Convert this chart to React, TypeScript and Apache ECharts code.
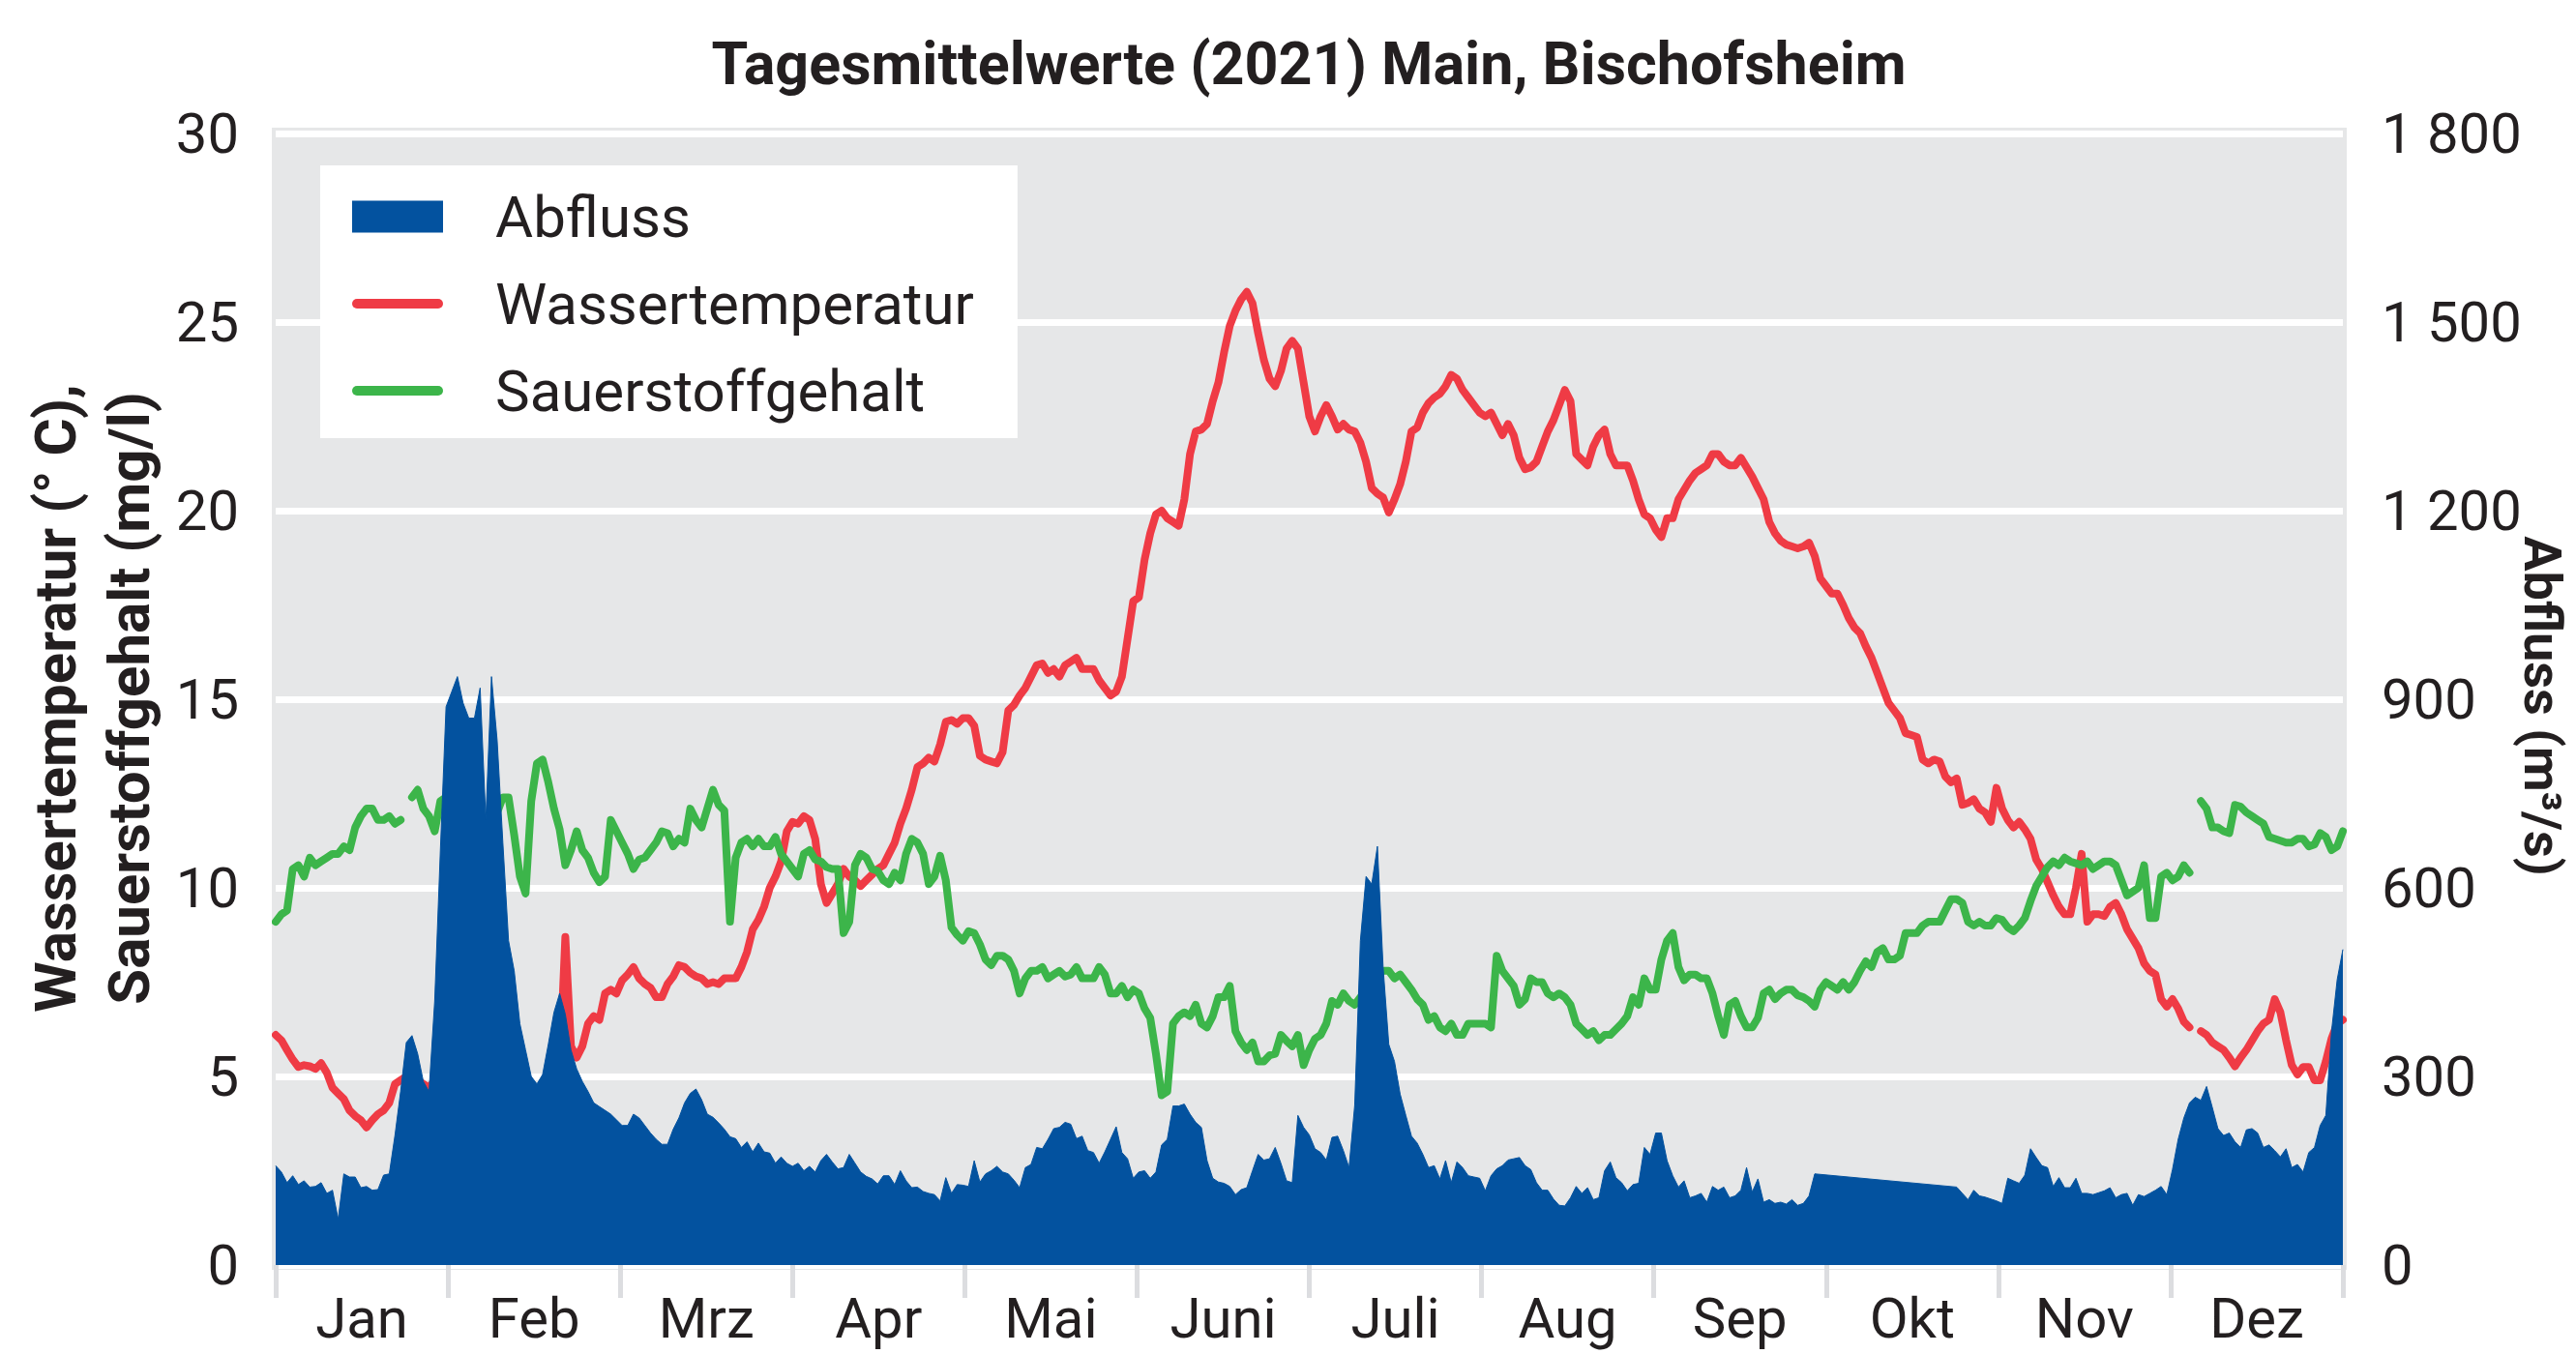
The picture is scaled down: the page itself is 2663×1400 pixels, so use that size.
import React, { useEffect, useRef } from "react";
import * as echarts from "echarts";

const TITLE = "Tagesmittelwerte (2021) Main, Bischofsheim";
const MONTHS = ["Jan", "Feb", "Mrz", "Apr", "Mai", "Juni", "Juli", "Aug", "Sep", "Okt", "Nov", "Dez"];

// Abfluss (m³/s), daily means 2021 (null = no data)
const abfluss: (number | null)[] = [
  158, 148, 131, 142, 128, 134, 124, 125, 131, 114,
  119, 73, 145, 140, 140, 123, 125, 119, 120, 143,
  145, 206, 276, 354, 365, 336, 292, 276, 420, 660,
  888, 912, 936, 894, 870, 870, 918, 708, 936, 834,
  672, 516, 468, 384, 342, 300, 288, 303, 351, 402,
  432, 399, 342, 312, 292, 276, 258, 252, 246, 240,
  231, 222, 222, 240, 234, 222, 210, 200, 192, 192,
  216, 234, 258, 273, 280, 263, 240, 235, 226, 216,
  204, 201, 187, 196, 180, 194, 180, 178, 162, 172,
  162, 157, 162, 150, 157, 148, 166, 176, 164, 153,
  155, 176, 162, 148, 141, 137, 129, 142, 142, 128,
  150, 134, 123, 124, 117, 114, 112, 102, 139, 114,
  128, 127, 125, 166, 132, 145, 150, 157, 148, 145,
  135, 123, 155, 160, 187, 185, 200, 217, 219, 227,
  224, 201, 205, 182, 179, 162, 180, 200, 220, 179,
  169, 138, 148, 150, 138, 148, 191, 200, 253, 253,
  256, 240, 227, 219, 166, 138, 132, 130, 125, 112,
  120, 123, 150, 176, 167, 169, 187, 162, 134, 131,
  238, 219, 207, 185, 179, 167, 203, 205, 182, 155,
  254, 516, 618, 606, 666, 474, 351, 324, 272, 238,
  205, 194, 176, 155, 158, 137, 166, 131, 164, 155,
  142, 140, 138, 118, 142, 153, 158, 167, 169, 171,
  158, 152, 131, 119, 119, 105, 95, 94, 107, 125,
  114, 123, 104, 107, 150, 164, 139, 131, 118, 128,
  130, 187, 176, 210, 210, 166, 142, 124, 134, 107,
  110, 114, 100, 125, 119, 124, 107, 110, 119, 155,
  116, 137, 100, 104, 98, 100, 97, 104, 95, 98,
  110, 145, null, null, null, null, null, null, null, null,
  null, null, null, null, null, null, null, null, null, null,
  null, null, null, null, null, null, 124, 114, 104, 119,
  110, 108, 105, 102, 98, 138, 134, 130, 143, 185,
  171, 158, 155, 125, 139, 123, 123, 138, 114, 114,
  112, 115, 118, 123, 107, 112, 114, 95, 112, 109,
  114, 119, 125, 112, 152, 200, 234, 258, 267, 262,
  284, 251, 217, 206, 210, 196, 187, 215, 217, 210,
  187, 191, 182, 172, 185, 155, 160, 148, 179, 187,
  222, 238, 371, 454, 502,
];

// Wassertemperatur (°C)
const wassertemperatur: (number | null)[] = [
  6.1, 5.96, 5.7, 5.45, 5.25, 5.3, 5.27, 5.2, 5.35, 5.1,
  4.7, 4.55, 4.4, 4.1, 3.95, 3.84, 3.65, 3.84, 4.0, 4.1,
  4.3, 4.8, 4.9, 5.0, 5.0, 4.9, 4.8, 4.7, 4.9, 5.0,
  5.0, 4.8, 4.6, 4.3, 4.0, 3.6, 3.3, 3.2, 3.3, 3.5,
  3.8, 4.1, 4.3, 4.4, 4.5, 4.5, 4.5, 4.6, 4.8, 5.0,
  5.2, 8.7, 5.8, 5.5, 5.8, 6.4, 6.6, 6.5, 7.2, 7.3,
  7.2, 7.55, 7.7, 7.9, 7.6, 7.45, 7.35, 7.1, 7.1, 7.45,
  7.65, 7.95, 7.9, 7.75, 7.65, 7.6, 7.45, 7.5, 7.45, 7.6,
  7.6, 7.6, 7.9, 8.3, 8.9, 9.15, 9.5, 10.0, 10.3, 10.7,
  11.5, 11.75, 11.7, 11.9, 11.8, 11.3, 10.1, 9.6, 9.85, 10.1,
  10.5, 10.3, 10.2, 10.05, 10.2, 10.35, 10.5, 10.6, 10.9, 11.2,
  11.7, 12.1, 12.6, 13.2, 13.3, 13.45, 13.35, 13.8, 14.4, 14.45,
  14.35, 14.5, 14.5, 14.3, 13.5, 13.4, 13.35, 13.3, 13.6, 14.7,
  14.85, 15.1, 15.3, 15.6, 15.9, 15.95, 15.7, 15.8, 15.6, 15.9,
  16.0, 16.1, 15.8, 15.8, 15.8, 15.5, 15.3, 15.1, 15.2, 15.6,
  16.6, 17.6, 17.7, 18.7, 19.4, 19.9, 20.0, 19.8, 19.7, 19.6,
  20.3, 21.5, 22.1, 22.15, 22.3, 22.9, 23.4, 24.2, 24.9, 25.3,
  25.6, 25.8, 25.5, 24.7, 24.0, 23.5, 23.3, 23.7, 24.3, 24.5,
  24.3, 23.4, 22.5, 22.1, 22.5, 22.8, 22.5, 22.15, 22.3, 22.15,
  22.1, 21.8, 21.3, 20.6, 20.45, 20.35, 19.95, 20.3, 20.7, 21.3,
  22.1, 22.2, 22.6, 22.85, 23.0, 23.1, 23.3, 23.6, 23.5, 23.2,
  23.0, 22.8, 22.6, 22.5, 22.6, 22.3, 22.0, 22.3, 22.0, 21.4,
  21.1, 21.15, 21.3, 21.7, 22.1, 22.4, 22.8, 23.2, 22.9, 21.5,
  21.35, 21.2, 21.7, 22.0, 22.15, 21.5, 21.2, 21.2, 21.2, 20.8,
  20.3, 19.9, 19.8, 19.5, 19.3, 19.8, 19.8, 20.3, 20.55, 20.8,
  21.0, 21.1, 21.2, 21.5, 21.5, 21.3, 21.2, 21.2, 21.4, 21.15,
  20.9, 20.6, 20.3, 19.7, 19.4, 19.2, 19.1, 19.05, 19.0, 19.05,
  19.15, 18.8, 18.2, 18.0, 17.8, 17.8, 17.5, 17.15, 16.9, 16.75,
  16.4, 16.1, 15.7, 15.3, 14.9, 14.7, 14.5, 14.1, 14.05, 14.0,
  13.4, 13.3, 13.4, 13.35, 12.95, 12.8, 12.9, 12.2, 12.25, 12.35,
  12.1, 12.0, 11.75, 12.65, 12.1, 11.8, 11.6, 11.75, 11.55, 11.3,
  10.75, 10.5, 10.15, 9.8, 9.5, 9.3, 9.3, 10.0, 10.9, 9.1,
  9.3, 9.3, 9.25, 9.5, 9.6, 9.3, 8.9, 8.65, 8.4, 8.0,
  7.8, 7.7, 7.05, 6.85, 7.05, 6.8, 6.45, 6.3, null, 6.2,
  6.1, 5.9, 5.8, 5.7, 5.5, 5.27, 5.5, 5.7, 5.95, 6.2,
  6.4, 6.5, 7.05, 6.7, 5.96, 5.3, 5.05, 5.25, 5.25, 4.9,
  4.9, 5.4, 6.0, 6.4, 6.5,
];

// Sauerstoffgehalt (mg/l)
const sauerstoffgehalt: (number | null)[] = [
  9.1, 9.3, 9.4, 10.5, 10.6, 10.3, 10.8, 10.6, 10.7, 10.8,
  10.9, 10.9, 11.1, 11.0, 11.6, 11.9, 12.1, 12.1, 11.8, 11.8,
  11.9, 11.7, 11.8, null, 12.4, 12.6, 12.1, 11.9, 11.5, 12.3,
  12.4, 12.3, 12.2, 12.0, 11.9, 11.7, 11.5, 11.4, 11.6, 12.0,
  12.4, 12.4, 11.4, 10.3, 9.85, 12.3, 13.3, 13.4, 12.8, 12.1,
  11.55, 10.6, 11.0, 11.5, 11.0, 10.8, 10.4, 10.15, 10.3, 11.8,
  11.5, 11.2, 10.9, 10.5, 10.75, 10.8, 11.0, 11.2, 11.5, 11.45,
  11.1, 11.3, 11.2, 12.1, 11.8, 11.6, 12.1, 12.6, 12.2, 12.05,
  9.1, 10.8, 11.2, 11.3, 11.1, 11.3, 11.1, 11.1, 11.35, 10.9,
  10.7, 10.5, 10.3, 10.9, 11.0, 10.75, 10.7, 10.55, 10.5, 10.5,
  8.8, 9.1, 10.6, 10.9, 10.8, 10.5, 10.45, 10.2, 10.1, 10.4,
  10.2, 10.9, 11.3, 11.2, 10.9, 10.1, 10.3, 10.85, 10.2, 8.95,
  8.75, 8.6, 8.85, 8.8, 8.5, 8.1, 7.95, 8.2, 8.2, 8.1,
  7.8, 7.2, 7.6, 7.8, 7.8, 7.9, 7.6, 7.7, 7.8, 7.65,
  7.7, 7.9, 7.6, 7.6, 7.6, 7.9, 7.7, 7.2, 7.2, 7.4,
  7.1, 7.3, 7.2, 6.8, 6.55, 5.6, 4.5, 4.6, 6.4, 6.6,
  6.7, 6.6, 6.9, 6.4, 6.3, 6.6, 7.1, 7.1, 7.4, 6.2,
  5.9, 5.7, 5.9, 5.4, 5.4, 5.56, 5.6, 6.1, 5.94, 5.8,
  6.1, 5.3, 5.7, 6.0, 6.1, 6.4, 7.0, 6.9, 7.2, 7.0,
  6.9, 7.1, 7.3, 7.5, 7.7, 7.8, 7.8, 7.6, 7.7, 7.5,
  7.3, 7.05, 6.9, 6.5, 6.6, 6.3, 6.2, 6.4, 6.1, 6.1,
  6.4, 6.4, 6.4, 6.4, 6.3, 8.2, 7.8, 7.6, 7.4, 6.9,
  7.05, 7.6, 7.5, 7.5, 7.2, 7.1, 7.2, 7.1, 6.9, 6.4,
  6.25, 6.1, 6.2, 5.96, 6.1, 6.1, 6.25, 6.4, 6.6, 7.1,
  6.9, 7.6, 7.3, 7.3, 8.1, 8.6, 8.8, 7.9, 7.55, 7.7,
  7.7, 7.6, 7.6, 7.2, 6.6, 6.1, 6.9, 7.0, 6.6, 6.3,
  6.3, 6.55, 7.2, 7.3, 7.05, 7.2, 7.3, 7.3, 7.15, 7.1,
  7.0, 6.85, 7.3, 7.5, 7.4, 7.3, 7.5, 7.3, 7.5, 7.8,
  8.05, 7.9, 8.3, 8.4, 8.1, 8.1, 8.2, 8.8, 8.8, 8.8,
  9.0, 9.1, 9.1, 9.1, 9.4, 9.7, 9.7, 9.6, 9.1, 9.0,
  9.1, 9.0, 9.0, 9.2, 9.15, 8.95, 8.85, 9.0, 9.2, 9.65,
  10.05, 10.3, 10.55, 10.7, 10.6, 10.8, 10.7, 10.65, 10.6, 10.7,
  10.5, 10.6, 10.7, 10.7, 10.6, 10.2, 9.8, 9.9, 10.0, 10.6,
  9.2, 9.2, 10.3, 10.4, 10.2, 10.3, 10.6, 10.4, null, 12.3,
  12.1, 11.6, 11.6, 11.5, 11.45, 12.2, 12.15, 12.0, 11.9, 11.8,
  11.7, 11.35, 11.3, 11.25, 11.2, 11.2, 11.3, 11.3, 11.1, 11.15,
  11.45, 11.35, 11.0, 11.1, 11.5,
];

const days: string[] = abfluss.map((_, i) => {
  const d = new Date(Date.UTC(2021, 0, 1 + i));
  return d.toISOString().slice(0, 10);
});

const BLUE = "#03529f";
const RED = "#ef3b45";
const GREEN = "#3cb54a";
const BG = "#e6e7e8";
const TXT = "#231f20";
const FONT = "Roboto, 'Open Sans', sans-serif";

const lineIcon = "path://M5,0L89,0A5,5,0,0,1,89,10L5,10A5,5,0,0,1,5,0Z";

export default function App() {
  const ref = useRef<HTMLDivElement>(null);

  useEffect(() => {
    document.body.style.margin = "0";
    if (!ref.current) return;
    const chart = echarts.init(ref.current, null, { renderer: "svg" });
    const titleStyle = {
      fontFamily: FONT,
      fontSize: 60,
      fontWeight: "bold",
      fill: TXT,
      align: "center",
      verticalAlign: "middle",
    };
    const option: any = {
      animation: false,
      textStyle: { fontFamily: FONT },
      grid: { left: 285, right: 241, top: 138, bottom: 92, containLabel: false },
      graphic: [
        {
          type: "rect",
          z: -10,
          silent: true,
          shape: { x: 281, y: 132, width: 2145, height: 1181 },
          style: { fill: BG },
        },
        {
          type: "text",
          x: 1353,
          y: 66,
          style: { ...titleStyle, text: TITLE, fontSize: 61 },
        },
        {
          type: "text",
          x: 57,
          y: 722,
          rotation: Math.PI / 2,
          style: { ...titleStyle, text: "Wassertemperatur (° C)," },
        },
        {
          type: "text",
          x: 133,
          y: 722,
          rotation: Math.PI / 2,
          style: { ...titleStyle, text: "Sauerstoffgehalt (mg/l)" },
        },
        {
          type: "text",
          x: 2628,
          y: 730,
          rotation: -Math.PI / 2,
          style: { ...titleStyle, text: "Abfluss (m³/s)", fontSize: 54 },
        },
      ],
      legend: {
        orient: "vertical",
        left: 331,
        top: 171,
        padding: [23, 45, 19, 33],
        itemWidth: 94,
        itemHeight: 33,
        itemGap: 30,
        backgroundColor: "#ffffff",
        itemStyle: { borderWidth: 0 },
        textStyle: {
          fontFamily: FONT,
          fontSize: 60,
          lineHeight: 60,
          color: TXT,
          padding: [0, 0, 0, 49],
        },
        data: [
          { name: "Abfluss", icon: "rect" },
          { name: "Wassertemperatur", icon: lineIcon },
          { name: "Sauerstoffgehalt", icon: lineIcon },
        ],
      },
      xAxis: [
        {
          type: "category",
          data: days,
          boundaryGap: false,
          show: false,
        },
        {
          type: "category",
          data: MONTHS,
          boundaryGap: true,
          position: "bottom",
          axisLine: { show: false },
          axisTick: { show: true, length: 34, lineStyle: { color: "#dcdde0", width: 5 } },
          axisLabel: { fontSize: 58, margin: 26, color: TXT, fontFamily: FONT },
          splitLine: { show: false },
        },
      ],
      yAxis: [
        {
          type: "value",
          min: 0,
          max: 30,
          interval: 5,
          axisLine: { show: false },
          axisTick: { show: false },
          axisLabel: { fontSize: 58, margin: 38, color: TXT, fontFamily: FONT },
          splitLine: { show: true, lineStyle: { color: "#ffffff", width: 7 } },
        },
        {
          type: "value",
          min: 0,
          max: 1800,
          interval: 300,
          position: "right",
          axisLine: { show: false },
          axisTick: { show: false },
          axisLabel: {
            fontSize: 58,
            margin: 40,
            color: TXT,
            fontFamily: FONT,
            formatter: (v: number) =>
              v >= 1000 ? `${Math.floor(v / 1000)} ${String(v % 1000).padStart(3, "0")}` : String(v),
          },
          splitLine: { show: false },
        },
      ],
      series: [
        {
          name: "Wassertemperatur",
          type: "line",
          xAxisIndex: 0,
          yAxisIndex: 0,
          data: wassertemperatur,
          symbol: "none",
          showSymbol: false,
          connectNulls: false,
          z: 2,
          itemStyle: { color: RED },
          lineStyle: { color: RED, width: 8, cap: "round", join: "round" },
        },
        {
          name: "Sauerstoffgehalt",
          type: "line",
          xAxisIndex: 0,
          yAxisIndex: 0,
          data: sauerstoffgehalt,
          symbol: "none",
          showSymbol: false,
          connectNulls: false,
          z: 2,
          itemStyle: { color: GREEN },
          lineStyle: { color: GREEN, width: 8, cap: "round", join: "round" },
        },
        {
          name: "Abfluss",
          type: "line",
          xAxisIndex: 0,
          yAxisIndex: 1,
          data: abfluss,
          symbol: "none",
          showSymbol: false,
          connectNulls: true,
          z: 3,
          itemStyle: { color: BLUE },
          lineStyle: { color: BLUE, width: 1 },
          areaStyle: { color: BLUE, opacity: 1 },
        },
      ],
    };
    chart.setOption(option);
    return () => chart.dispose();
  }, []);

  return <div ref={ref} style={{ width: 2663, height: 1400 }} />;
}
